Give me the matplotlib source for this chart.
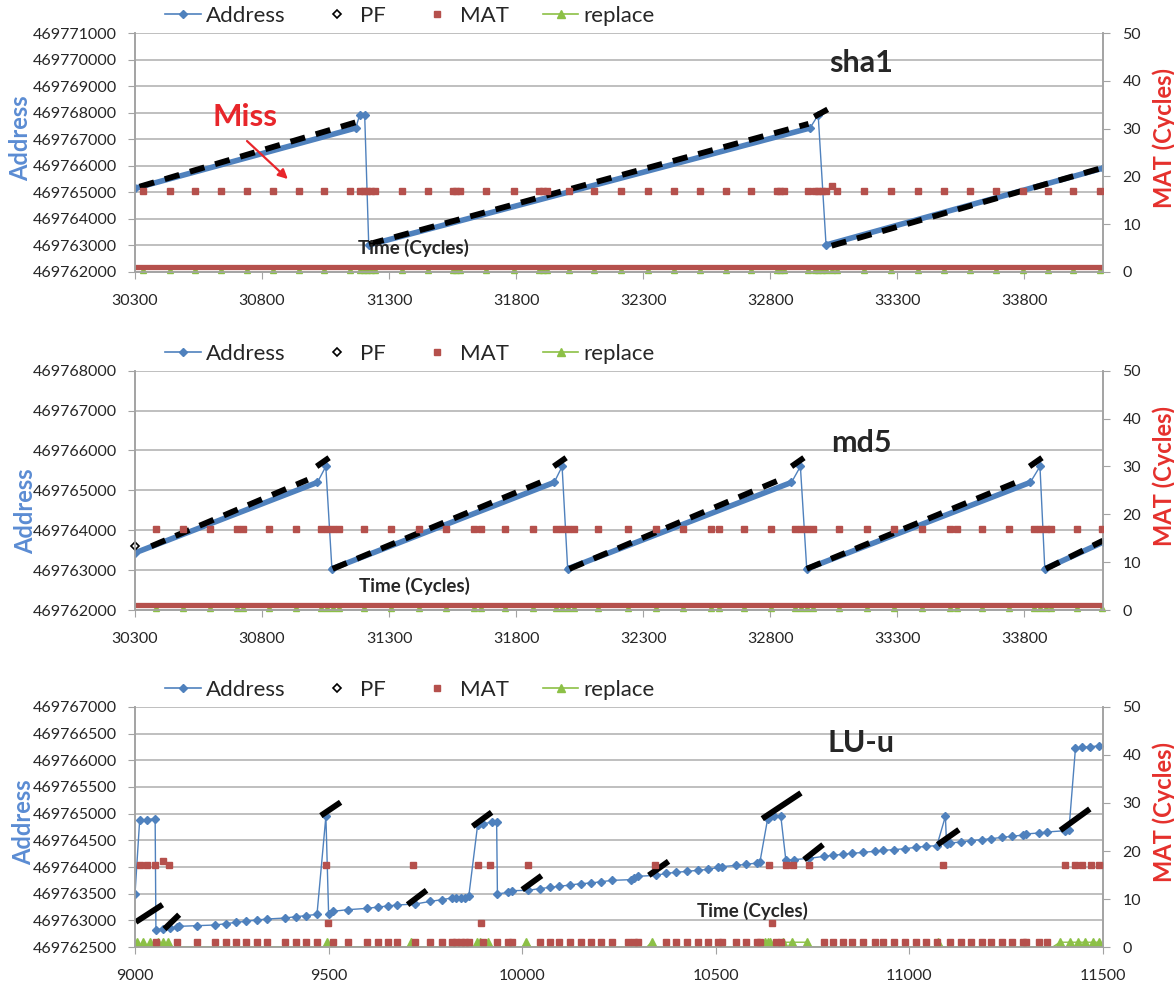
import matplotlib
matplotlib.use("Agg")
import matplotlib.pyplot as plt
from matplotlib.lines import Line2D
from matplotlib.ticker import FuncFormatter, MultipleLocator

plt.rcParams['font.family'] = ['Lato', 'DejaVu Sans']

BLUE = '#4F81BD'
RED = '#B5504C'
GREEN = '#8CC046'
GRID = '#B4B4B4'
AXC = '#A3A3A3'
TXT = '#262626'

# ---------------- sha1 ----------------
sha1_t = [30300, 31169, 31184, 31204, 31220, 32957, 32989, 33020, 34110]
sha1_addr = [469765153, 469767423, 469767913, 469767913, 469763017,
             469767423, 469767913, 469763017, 469765910]
# prefetch (PF) ramps: start/end time and address
sha1_pf_t = [(30318, 31191), (31221, 32951), (32974, 33042), (33042, 34110)]
sha1_pf_a = [(469765213, 469767700), (469763050, 469767580),
             (469767850, 469768205), (469762990, 469765930)]
# misses (MAT ~17 cycles)
sha1_miss_t = [30333, 30436, 30535, 30637, 30739, 30842, 30944, 31043, 31146,
               31185, 31200, 31215, 31230, 31245, 31352, 31454, 31550, 31565,
               31580, 31680, 31793, 31890, 31905, 31920, 32010, 32108, 32214,
               32320, 32422, 32524, 32625, 32726, 32825, 32840, 32855, 32949,
               32975, 32990, 33005, 33020, 33042, 33064, 33170, 33275, 33380,
               33486, 33586, 33688, 33794, 33892, 33993, 34098]
sha1_miss_mat = [17] * 40 + [18] + [17] * 11
sha1_hit_span = (30300, 34110)   # continuous hits at MAT = 1
sha1_hit_mat = 1

# ---------------- md5 ----------------
md5_t = [30300, 31018, 31051, 31075, 31950, 31981, 32003, 32884, 32919, 32944,
         33824, 33862, 33881, 34110]
md5_addr = [469763433, 469765200, 469765600, 469763033, 469765200, 469765600,
            469763033, 469765200, 469765600, 469763033, 469765200, 469765600,
            469763033, 469763700]
md5_pf_t = [(30364, 30980), (31015, 31075), (31078, 31905), (31948, 32008),
            (32010, 32839), (32884, 32944), (32944, 33794), (33821, 33881),
            (33885, 34110)]
md5_pf_a = [(469763600, 469765267), (469765600, 469765867),
            (469763033, 469765225), (469765600, 469765867),
            (469763033, 469765267), (469765600, 469765867),
            (469763033, 469765267), (469765600, 469765867),
            (469763033, 469763740)]
md5_pf_pt_t = [30300]
md5_pf_pt_a = [469763600]
md5_miss_t = [30383, 30488, 30594, 30702, 30725, 30827, 30935, 31033, 31056,
              31078, 31101, 31203, 31308, 31416, 31525, 31635, 31662, 31758,
              31865, 31958, 31981, 32004, 32026, 32124, 32242, 32350, 32455,
              32568, 32598, 32696, 32802, 32899, 32922, 32944, 32967, 33072,
              33180, 33286, 33399, 33508, 33535, 33632, 33741, 33839, 33862,
              33884, 33907, 34009, 34105]
md5_miss_mat = [17] * len(md5_miss_t)
md5_hit_span = (30300, 34110)
md5_hit_mat = 1

# ---------------- LU-u ----------------
lu_t = [9000, 9012, 9030, 9052, 9054, 9071, 9091, 9108, 9114, 9160, 9207, 9235,
        9261, 9286, 9314, 9341, 9388, 9415, 9442, 9470, 9493, 9500, 9511, 9549,
        9600, 9628, 9653, 9677, 9724, 9763, 9793, 9818, 9830, 9841, 9852, 9862,
        9885, 9899, 9921, 9934, 9936, 9964, 9974, 10015, 10045, 10072, 10096,
        10124, 10151, 10178, 10204, 10233, 10281, 10288, 10298, 10345, 10372,
        10398, 10426, 10454, 10481, 10507, 10515, 10553, 10579, 10606, 10614,
        10634, 10651, 10668, 10681, 10701, 10742, 10779, 10803, 10829, 10853,
        10881, 10910, 10933, 10960, 10989, 11017, 11044, 11071, 11093, 11096,
        11106, 11133, 11159, 11187, 11212, 11239, 11266, 11294, 11300, 11335,
        11355, 11403, 11412, 11429, 11446, 11466, 11490]
lu_addr = [469763500, 469764875, 469764888, 469764906, 469762825, 469762838,
           469762856, 469762875, 469762888, 469762900, 469762913, 469762938,
           469762963, 469762981, 469763006, 469763025, 469763044, 469763069,
           469763088, 469763113, 469764950, 469763125, 469763169, 469763200,
           469763225, 469763250, 469763269, 469763288, 469763306, 469763356,
           469763388, 469763419, 469763419, 469763419, 469763425, 469763450,
           469764794, 469764813, 469764838, 469764838, 469763494, 469763525,
           469763556, 469763563, 469763594, 469763619, 469763638, 469763663,
           469763688, 469763700, 469763725, 469763750, 469763763, 469763788,
           469763825, 469763844, 469763881, 469763900, 469763919, 469763938,
           469763956, 469763994, 469764006, 469764031, 469764050, 469764075,
           469764094, 469764906, 469764950, 469764950, 469764125, 469764138,
           469764163, 469764200, 469764219, 469764238, 469764256, 469764275,
           469764294, 469764313, 469764325, 469764344, 469764369, 469764388,
           469764400, 469764950, 469764438, 469764450, 469764469, 469764494,
           469764513, 469764531, 469764556, 469764575, 469764600, 469764619,
           469764638, 469764656, 469764681, 469764688, 469766231, 469766244,
           469766256, 469766269]
lu_pf_t = [(9002, 9071), (9076, 9114), (9480, 9531), (9704, 9753), (9872, 9921),
           (10000, 10050), (10327, 10378), (10620, 10720), (10728, 10777),
           (11073, 11128), (11390, 11466)]
lu_pf_a = [(469762969, 469763294), (469762838, 469763106),
           (469764963, 469765213), (469763294, 469763563),
           (469764763, 469765025), (469763575, 469763838),
           (469763844, 469764106), (469764906, 469765388),
           (469764138, 469764419), (469764419, 469764700),
           (469764688, 469765088)]
lu_mat_t = [9012, 9030, 9052, 9071, 9089, 9493, 9717, 9885, 9917, 10015, 10342,
            10637, 10681, 10700, 10740, 11088, 11402, 11427, 11447, 11469, 11490,
            9499, 9894, 10644,
            9054, 9108, 9160, 9207, 9235, 9261, 9286, 9314, 9341, 9388, 9415,
            9442, 9470, 9511, 9549, 9600, 9628, 9653, 9677, 9724, 9763, 9793,
            9818, 9830, 9841, 9852, 9862, 9899, 9934, 9964, 9974, 10045, 10072,
            10096, 10124, 10151, 10178, 10204, 10233, 10272, 10288, 10298,
            10372, 10398, 10426, 10454, 10481, 10507, 10515, 10553, 10579,
            10606, 10614, 10655, 10668, 10779, 10803, 10829, 10853, 10881,
            10910, 10933, 10960, 10989, 11017, 11044, 11071, 11106, 11133,
            11159, 11187, 11212, 11239, 11266, 11294, 11300, 11335, 11355]
lu_mat_v = [17, 17, 17, 18, 17, 17, 17, 17, 17, 17, 17,
            17, 17, 17, 17, 17, 17, 17, 17, 17, 17,
            5, 5, 5] + [1] * 78
lu_rep_t = [9000, 9004, 9012, 9021, 9030, 9038, 9050, 9060, 9066, 9073, 9080,
            9086, 9095, 9488, 9495, 9502, 9704, 9714, 9724, 9875, 9882, 9891,
            9900, 9912, 9920, 10000, 10011, 10022, 10322, 10334, 10345, 10615,
            10627, 10634, 10640, 10655, 10674, 10696, 10735, 10745, 11064,
            11075, 11086, 11370, 11389, 11415, 11436, 11454, 11474, 11490]
lu_rep_v = [0, 1, 0, 1, 0, 1, 0, 1, 0, 1, 0, 1, 0, 0, 1, 0, 0, 1, 0, 0, 1, 1,
            0, 1, 0, 0, 1, 0, 0, 1, 0, 0, 1, 1, 1, 0, 1, 1, 1, 0, 0, 1, 0, 0,
            1, 1, 1, 1, 1, 1]


def style_axes(ax, ax2, xlim, ylim, ystep, xticks):
    ax.set_xlim(*xlim)
    ax.set_ylim(*ylim)
    ax2.set_ylim(0, 50)
    ax.yaxis.set_major_locator(MultipleLocator(ystep))
    ax.yaxis.set_major_formatter(FuncFormatter(lambda v, p: f"{v:.0f}"))
    ax2.yaxis.set_major_locator(MultipleLocator(10))
    ax.set_xticks(xticks)
    ax.grid(axis='y', color=GRID, lw=1.2)
    ax.set_axisbelow(True)
    for a in (ax, ax2):
        a.spines['top'].set_visible(False)
        for s in ('left', 'right', 'bottom'):
            a.spines[s].set_color(AXC)
            a.spines[s].set_linewidth(1.2)
    ax.tick_params(axis='y', direction='out', length=5, color=AXC,
                   labelsize=11.5, labelcolor=TXT, pad=8)
    ax.tick_params(axis='x', direction='out', length=5, color=AXC,
                   labelsize=11.5, labelcolor=TXT, pad=11)
    ax2.tick_params(axis='y', direction='out', length=5, color=AXC,
                    labelsize=11.5, labelcolor=TXT, pad=9)


def draw_address(ax, t, a, thick_ramps):
    ax.plot(t, a, color=BLUE, lw=1.0, marker='D', ms=4, zorder=3)
    if thick_ramps:
        for i in range(len(t) - 1):
            if t[i + 1] - t[i] > 200:
                ax.plot(t[i:i + 2], a[i:i + 2], color=BLUE, lw=4.0,
                        solid_capstyle='round', zorder=3)


def draw_pf(ax, seg_t, seg_a, ls):
    for (t0, t1), (a0, a1) in zip(seg_t, seg_a):
        ax.plot([t0, t1], [a0, a1], color='black', lw=4.2, linestyle=ls,
                dash_capstyle='butt', solid_capstyle='butt', zorder=4)


def add_legend(ax2):
    handles = [Line2D([], [], color=BLUE, lw=1.2, marker='D', ms=4.5),
               Line2D([], [], color='none', marker='D', ms=4.5, mfc='white',
                      mec='black', mew=1.2),
               Line2D([], [], color='none', marker='s', ms=5, mfc=RED, mec=RED),
               Line2D([], [], color=GREEN, lw=1.2, marker='^', ms=6,
                      mfc=GREEN, mec=GREEN)]
    leg = ax2.legend(handles, ['Address', 'PF', 'MAT', 'replace'],
                     loc='center left', bbox_to_anchor=(0.031, 1.071), ncol=4,
                     frameon=False, fontsize=16, handlelength=1.6,
                     handletextpad=0.25, columnspacing=1.5, borderpad=0,
                     borderaxespad=0)
    for txt in leg.get_texts():
        txt.set_color(TXT)


def add_labels(ax, ax2, title, title_y, time_xy, addr_xy, mat_y):
    ax2.text(0.75, title_y, title, transform=ax2.transAxes, ha='center',
             va='baseline', fontsize=22, fontweight='bold', color=TXT, zorder=6)
    ax2.text(time_xy[0], time_xy[1], 'Time (Cycles)', transform=ax2.transAxes,
             ha='center', va='center', fontsize=13.5, fontweight='bold',
             color=TXT, zorder=6)
    ax2.text(addr_xy[0], addr_xy[1], 'Address', transform=ax2.transAxes,
             rotation=90, ha='center', va='center', fontsize=17,
             fontweight='bold', color='#5B8CD3')
    ax2.text(1.063, mat_y, 'MAT (Cycles)', transform=ax2.transAxes,
             rotation=90, ha='center', va='center', fontsize=17,
             fontweight='bold', color='#E5302C')


fig = plt.figure(figsize=(11.74, 9.83), dpi=100)
fig.patch.set_facecolor('white')

rects = [(0.115, 0.7233, 0.8245, 0.2431),
         (0.115, 0.3794, 0.8245, 0.2435),
         (0.115, 0.0366, 0.8245, 0.2442)]
dash = (0, (2.6, 1.9))

# ---- sha1 ----
ax = fig.add_axes(rects[0])
ax2 = ax.twinx()
style_axes(ax, ax2, (30300, 34110), (469762000, 469771000), 1000,
           [30300, 30800, 31300, 31800, 32300, 32800, 33300, 33800])
draw_address(ax, sha1_t, sha1_addr, True)
draw_pf(ax, sha1_pf_t, sha1_pf_a, dash)
ax2.plot(sha1_miss_t, [0.35] * len(sha1_miss_t), ls='none', marker='^', ms=4,
         color=GREEN, zorder=1.5, clip_on=False)
ax2.hlines(sha1_hit_mat, *sha1_hit_span, color=RED, lw=3.8, zorder=2)
ax2.plot(sha1_miss_t, sha1_miss_mat, ls='none', marker='s', ms=4.2,
         color=RED, zorder=3)
add_legend(ax2)
add_labels(ax, ax2, 'sha1', 0.837, (0.288, 0.10), (-0.118, 0.561), 0.561)
ax2.text(0.1136, 0.611, 'Miss', transform=ax2.transAxes, ha='center',
         va='baseline', fontsize=22.5, fontweight='bold', color='#E8262B')
ax2.annotate('', xy=(0.160, 0.381), xytext=(0.1136, 0.556),
             xycoords='axes fraction', textcoords='axes fraction',
             arrowprops=dict(arrowstyle='-|>', color='#E8262B', lw=1.6,
                             mutation_scale=14))

# ---- md5 ----
ax = fig.add_axes(rects[1])
ax2 = ax.twinx()
style_axes(ax, ax2, (30300, 34110), (469762000, 469768000), 1000,
           [30300, 30800, 31300, 31800, 32300, 32800, 33300, 33800])
draw_address(ax, md5_t, md5_addr, True)
draw_pf(ax, md5_pf_t, md5_pf_a, dash)
ax.plot(md5_pf_pt_t, md5_pf_pt_a, ls='none', marker='D', ms=4.5, mfc='white',
        mec='black', mew=1.2, zorder=5, clip_on=False)
ax2.plot(md5_miss_t, [0.35] * len(md5_miss_t), ls='none', marker='^', ms=4,
         color=GREEN, zorder=1.5, clip_on=False)
ax2.hlines(md5_hit_mat, *md5_hit_span, color=RED, lw=3.8, zorder=2)
ax2.plot(md5_miss_t, md5_miss_mat, ls='none', marker='s', ms=4.2,
         color=RED, zorder=3)
add_legend(ax2)
add_labels(ax, ax2, 'md5', 0.661, (0.289, 0.10), (-0.113, 0.411), 0.56)

# ---- LU-u ----
ax = fig.add_axes(rects[2])
ax2 = ax.twinx()
style_axes(ax, ax2, (9000, 11500), (469762500, 469767000), 500,
           [9000, 9500, 10000, 10500, 11000, 11500])
draw_address(ax, lu_t, lu_addr, False)
draw_pf(ax, lu_pf_t, lu_pf_a, '-')
ax2.plot(lu_rep_t, lu_rep_v, color=GREEN, lw=1.0, zorder=2)
ax2.plot([t for t, v in zip(lu_rep_t, lu_rep_v) if v == 1],
         [v for v in lu_rep_v if v == 1], ls='none', marker='^', ms=5.5,
         color=GREEN, zorder=2.2)
ax2.plot(lu_mat_t, lu_mat_v, ls='none', marker='s', ms=4.2, color=RED,
         zorder=3)
add_legend(ax2)
add_labels(ax, ax2, 'LU-u', 0.814, (0.638, 0.15), (-0.115, 0.522), 0.564)

fig.savefig('out.png', dpi=100, facecolor='white')
